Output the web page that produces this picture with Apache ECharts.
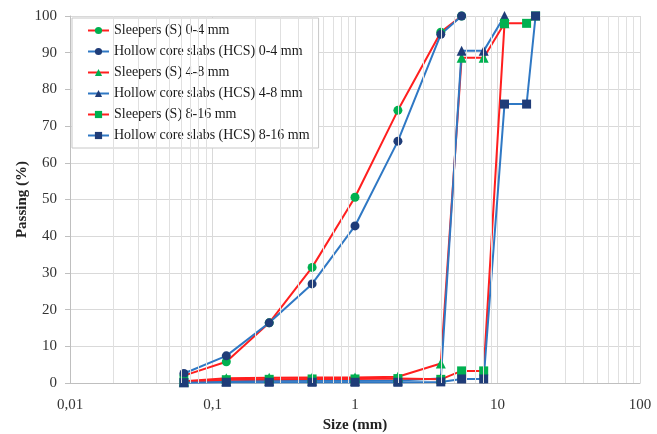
<!DOCTYPE html>
<html>
<head>
<meta charset="utf-8">
<script src="https://cdn.jsdelivr.net/npm/echarts@6/dist/echarts.min.js"></script>
<style>html,body{margin:0;padding:0;background:#fff;overflow:hidden}#c{width:657px;height:434px}</style>
</head>
<body>
<div id="c"></div>
<script>
// Sieve sizes (mm)
var sizes = [0.063, 0.125, 0.25, 0.5, 1, 2, 4, 5.6, 8, 11.2, 16, 18.5];
// Passing (%) per series, aligned with sizes (null = no value)
var s04   = [2.0, 5.8, 16.4, 31.5, 50.6, 74.3, 95.6, 100, null, null, null, null];
var hcs04 = [2.6, 7.4, 16.4, 27.0, 42.8, 65.9, 95.0, 100, null, null, null, null];
var s48   = [0.5, 1.3, 1.4, 1.5, 1.5, 1.7, 5.3, 88.6, 88.6, 98.0, null, null];
var hcs48 = [0.2, 0.5, 0.6, 0.6, 0.6, 0.7, 1.2, 90.5, 90.5, 100, null, null];
var s816  = [0.3, 0.9, 1.0, 1.1, 1.1, 1.2, 1.0, 3.3, 3.3, 98.0, 98.0, 100];
var hcs816= [0.1, 0.2, 0.2, 0.2, 0.2, 0.2, 0.3, 1.1, 1.1, 76.0, 76.0, 100];
var seriesNames = [
  'Sleepers (S) 0-4 mm',
  'Hollow core slabs (HCS) 0-4 mm',
  'Sleepers (S) 4-8 mm',
  'Hollow core slabs (HCS) 4-8 mm',
  'Sleepers (S) 8-16 mm',
  'Hollow core slabs (HCS) 8-16 mm'
];
var xTickLabels = ['0,01', '0,1', '1', '10', '100'];
var yTicks = [0, 10, 20, 30, 40, 50, 60, 70, 80, 90, 100];

function pairs(vals) {
  var out = [];
  for (var i = 0; i < sizes.length; i++) if (vals[i] != null) out.push([sizes[i], vals[i]]);
  return out;
}
// minor log grid positions (2..9 x 10^k)
var minorGrid = [];
for (var d = -2; d < 2; d++) for (var k = 2; k <= 9; k++) minorGrid.push(+(k * Math.pow(10, d)).toPrecision(3));

var RED = '#ff1f1f', BLUE = '#2f78c4', GREEN = '#00b050', DARK = '#1f3c78';
var FONT = '"Liberation Serif", "Times New Roman", serif';

function mk(name, vals, lineColor, markColor, symbol, size) {
  return {
    name: name, type: 'line', data: pairs(vals),
    symbol: symbol, symbolSize: size,
    lineStyle: { color: lineColor, width: 2 },
    itemStyle: { color: markColor },
    emphasis: { disabled: true }
  };
}

var chart = echarts.init(document.getElementById('c'), null, { renderer: 'canvas', width: 657, height: 434 });
chart.setOption({
  animation: false,
  backgroundColor: '#fff',
  grid: { left: 70, right: 17, top: 16, bottom: 51, containLabel: false, outerBoundsMode: 'none' },
  legend: {
    data: seriesNames,
    orient: 'vertical', left: 72, top: 18,
    backgroundColor: '#fff', borderColor: '#c8c8c8', borderWidth: 1,
    padding: [5, 9, 5, 15], itemGap: 6, itemWidth: 21, itemHeight: 9,
    textStyle: { fontFamily: FONT, fontSize: 14, lineHeight: 15, color: '#1a1a1a' }
  },
  xAxis: {
    type: 'log', logBase: 10, min: 0.01, max: 100,
    name: 'Size (mm)', nameLocation: 'middle', nameGap: 35,
    nameTextStyle: { fontFamily: FONT, fontSize: 15, fontWeight: 'bold', color: '#222' },
    axisLine: { show: true, lineStyle: { color: '#bfbfbf' } },
    axisTick: { show: false },
    axisLabel: {
      fontFamily: FONT, fontSize: 15, color: '#333', margin: 15,
      formatter: function (v) { return xTickLabels[Math.round(Math.log10(v)) + 2]; }
    },
    splitLine: { show: true, lineStyle: { color: '#d9d9d9', width: 1 } }
  },
  yAxis: {
    type: 'value', min: 0, max: 100, interval: 10,
    name: 'Passing (%)', nameLocation: 'middle', nameGap: 40, nameMoveOverlap: false,
    nameTextStyle: { fontFamily: FONT, fontSize: 15, fontWeight: 'bold', color: '#222' },
    axisLine: { show: true, lineStyle: { color: '#bfbfbf' } },
    axisTick: { show: true, length: 5, lineStyle: { color: '#bfbfbf' } },
    axisLabel: { fontFamily: FONT, fontSize: 15, color: '#333', margin: 13,
      formatter: function (v) { return yTicks.indexOf(v) >= 0 ? String(v) : ''; } },
    splitLine: { show: true, lineStyle: { color: '#d9d9d9', width: 1 } }
  },
  series: [
    {
      name: 'grid', type: 'line', data: [], silent: true, z: 1,
      markLine: {
        silent: true, symbol: 'none', label: { show: false },
        lineStyle: { color: '#e0e0e0', type: 'solid', width: 1 },
        emphasis: { disabled: true },
        data: minorGrid.map(function (v) { return { xAxis: v }; })
      }
    },
    mk(seriesNames[0], s04, RED, GREEN, 'circle', 9),
    mk(seriesNames[1], hcs04, BLUE, DARK, 'circle', 9),
    mk(seriesNames[2], s48, RED, GREEN, 'triangle', 10),
    mk(seriesNames[3], hcs48, BLUE, DARK, 'triangle', 10),
    mk(seriesNames[4], s816, RED, GREEN, 'rect', 9),
    mk(seriesNames[5], hcs816, BLUE, DARK, 'rect', 9)
  ]
});
</script>
</body>
</html>
